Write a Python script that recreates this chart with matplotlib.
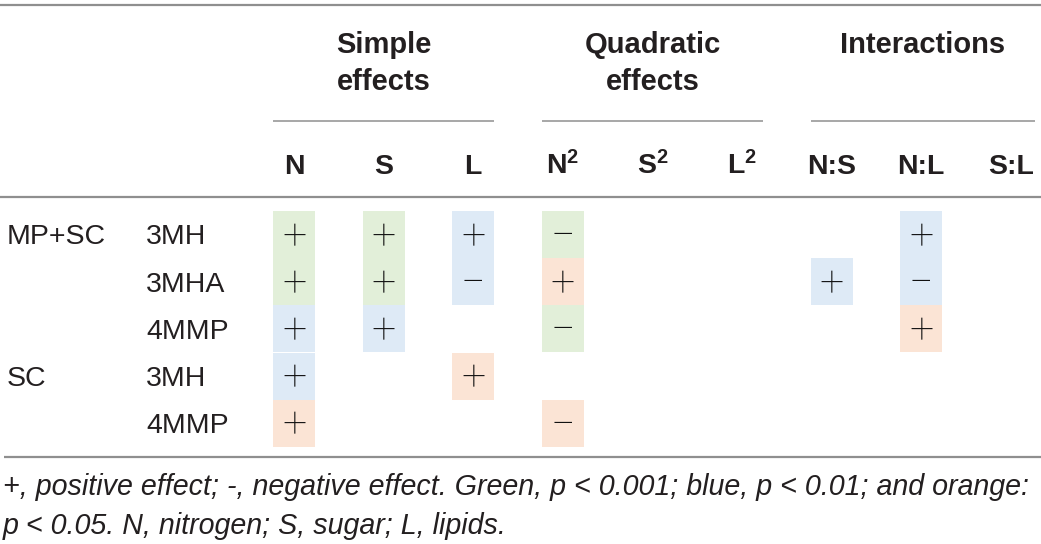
import matplotlib.pyplot as plt
from matplotlib.patches import Rectangle

plt.rcParams['mathtext.fontset'] = 'custom'
plt.rcParams['mathtext.rm'] = 'Liberation Sans'
plt.rcParams['mathtext.bf'] = 'Liberation Sans:bold'
plt.rcParams['mathtext.default'] = 'bf'

# Tabellens indhold
groups = [["Simple", "effects"], ["Quadratic", "effects"], ["Interactions"]]
group_cols = [(0, 2), (3, 5), (6, 8)]
columns = ["N", "S", "L", "N$^2$", "S$^2$", "L$^2$", "N:S", "N:L", "S:L"]
row_groups = ["MP+SC", "", "", "SC", ""]
row_labels = ["3MH", "3MHA", "4MMP", "3MH", "4MMP"]

# (række, kolonne, tegn, signifikans)  G: p<0.001, B: p<0.01, O: p<0.05
effects = [
    (0, 0, "+", "G"), (0, 1, "+", "G"), (0, 2, "+", "B"), (0, 3, "-", "G"), (0, 7, "+", "B"),
    (1, 0, "+", "G"), (1, 1, "+", "G"), (1, 2, "-", "B"), (1, 3, "+", "O"), (1, 6, "+", "B"), (1, 7, "-", "B"),
    (2, 0, "+", "B"), (2, 1, "+", "B"), (2, 3, "-", "G"), (2, 7, "+", "O"),
    (3, 0, "+", "B"), (3, 2, "+", "O"),
    (4, 0, "+", "O"), (4, 3, "-", "O"),
]
footnote = ["+, positive effect; -, negative effect. Green, p < 0.001; blue, p < 0.01; and orange:",
            "p < 0.05. N, nitrogen; S, sugar; L, lipids."]

FARVER = {"G": "#E2EFD9", "B": "#DEEAF6", "O": "#FBE4D5"}
TXT = "#231F20"
RULE = "#8f8f8f"

W, H = 1041, 544
fig = plt.figure(figsize=(W / 100, H / 100), dpi=100)
ax = fig.add_axes([0, 0, 1, 1])
ax.set_xlim(0, W)
ax.set_ylim(H, 0)
ax.axis('off')

col_x0, col_dx = 294, 89.6
row_y0, row_dy = 234.5, 47.2
cell_w = 42

def cx(c):
    return col_x0 + c * col_dx

def ry(r):
    return row_y0 + r * row_dy

# Linjer
ax.plot([0, W], [5, 5], color=RULE, lw=1.6, solid_capstyle='butt')
ax.plot([0, W], [197, 197], color=RULE, lw=1.6, solid_capstyle='butt')
ax.plot([4, W], [457, 457], color=RULE, lw=1.6, solid_capstyle='butt')

# Gruppeoverskrifter
for lines, (c0, c1) in zip(groups, group_cols):
    xl, xr = cx(c0) - cell_w / 2, cx(c1) + cell_w / 2
    if c1 == 8:
        xr = 1035
    ax.plot([xl, xr], [121, 121], color=RULE, lw=1.1, solid_capstyle='butt')
    for i, s in enumerate(lines):
        ax.text((xl + xr) / 2, 53 + 37 * i, s, ha='center', va='baseline',
                fontsize=21, fontweight='bold', family='Liberation Sans', color=TXT)

for c, s in enumerate(columns):
    ax.text(cx(c), 174, s, ha='center', va='baseline', fontsize=20.5,
            fontweight='bold', family='Liberation Sans', color=TXT)

# Rækkenavne
for r, (g, lab) in enumerate(zip(row_groups, row_labels)):
    ax.text(7, ry(r) + 10, g, ha='left', va='baseline', fontsize=20.5,
            family='Liberation Sans', color=TXT)
    ax.text(146, ry(r) + 10, lab, ha='left', va='baseline', fontsize=20.5,
            family='Liberation Sans', color=TXT)

# Celler
for r, c, sign, sig in effects:
    ax.add_patch(Rectangle((cx(c) - cell_w / 2, ry(r) - row_dy / 2), cell_w, row_dy,
                           facecolor=FARVER[sig], edgecolor='none', zorder=1))
    ax.text(cx(c), ry(r) + 3, "+" if sign == "+" else "\u2212", ha='center', va='center',
            fontsize=31, fontweight='light', family=['Roboto', 'DejaVu Sans'],
            color='#111111', zorder=2)

# Fodnote, tilpasset bredden
t1 = ax.text(3, 495, footnote[0], ha='left', va='baseline', fontsize=17,
             fontstyle='italic', family='Liberation Sans', color=TXT)
renderer = fig.canvas.get_renderer()
bw = t1.get_window_extent(renderer).width
fs = 17 * 1030 / bw
t1.set_fontsize(fs)
ax.text(3, 534, footnote[1], ha='left', va='baseline', fontsize=fs,
        fontstyle='italic', family='Liberation Sans', color=TXT)

plt.savefig('out.png', dpi=100)
